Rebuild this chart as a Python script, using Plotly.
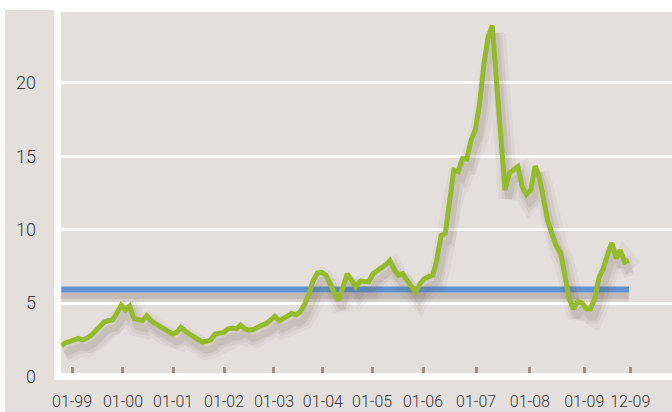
import plotly.graph_objects as go
import pandas as pd

# ---------------- data ----------------
start_month = "1998-11-01"
ratio = [
    2.1, 2.3,                                                            # 1998 Nov-Dec
    2.4, 2.5, 2.6, 2.5, 2.6, 2.8, 3.1, 3.4, 3.7, 3.8, 3.85, 4.3,         # 1999
    4.85, 4.55, 4.8, 3.95, 3.85, 3.8, 4.15, 3.8, 3.6, 3.45, 3.3, 3.1,    # 2000
    2.9, 3.0, 3.35, 3.1, 2.9, 2.7, 2.5, 2.35, 2.4, 2.5, 2.9, 2.95,       # 2001
    3.0, 3.25, 3.3, 3.25, 3.5, 3.25, 3.15, 3.2, 3.4, 3.5, 3.6, 3.9,      # 2002
    4.1, 3.8, 3.9, 4.1, 4.3, 4.2, 4.4, 4.9, 5.6, 6.5, 7.05, 7.1,         # 2003
    6.9, 6.2, 5.7, 5.2, 6.2, 7.0, 6.55, 6.1, 6.5, 6.5, 6.45, 7.0,        # 2004
    7.2, 7.45, 7.6, 7.9, 7.3, 6.9, 7.0, 6.55, 6.1, 5.75, 6.3, 6.65,      # 2005
    6.8, 6.9, 7.9, 9.6, 9.75, 11.8, 14.05, 13.95, 14.85, 14.8, 16.1, 16.8,  # 2006
    18.6, 21.3, 23.05, 23.9, 20.2, 16.6, 12.7, 13.85, 14.1, 14.3, 12.9, 12.4,  # 2007
    12.7, 14.35, 13.6, 12.0, 10.6, 9.7, 8.9, 8.4, 7.0, 5.3, 4.6, 5.1,    # 2008
    5.0, 4.6, 4.6, 5.3, 6.7, 7.35, 8.3, 9.1, 8.05, 8.6, 7.8, 7.9,        # 2009
]
benchmark_level = 5.93

tick_dates = ["1999-01-16", "2000-01-14", "2001-01-06", "2002-01-04", "2002-12-26",
              "2003-12-10", "2004-11-25", "2005-11-23", "2006-12-07", "2007-12-25",
              "2009-01-16", "2009-12-10"]
tick_labels = ["01-99", "01-00", "01-01", "01-02", "01-03", "01-04", "01-05",
               "01-06", "01-07", "01-08", "01-09", "12-09"]
y_ticks = [0, 5, 10, 15, 20]

# ---------------- styling ----------------
W, H = 672, 412
L, R, T, B = 61, 0, 12, 32
PW, PH = W - L - R, H - T - B
BG = "#e3dfdc"
GREEN = "#97ba2b"
BLUE = "#6292d0"
FONT = "Roboto, Liberation Sans, sans-serif"


def px_x(p):
    return (p - L) / PW


def px_y(p):
    return (H - B - p) / PH


dates = pd.date_range(start_month, periods=len(ratio), freq="MS")
shadow_dx = pd.Timedelta(days=25)
shadow_dy = 0.55

fig = go.Figure()

# benchmark shadow + line
bench_x = [dates[0], dates[-1]]
fig.add_trace(go.Scatter(x=bench_x, y=[benchmark_level - 0.5] * 2, mode="lines",
                         line=dict(color="rgba(130,115,105,0.14)", width=11),
                         hoverinfo="skip", showlegend=False))
fig.add_trace(go.Scatter(x=bench_x, y=[benchmark_level - 0.45] * 2, mode="lines",
                         line=dict(color="rgba(130,115,105,0.22)", width=6),
                         hoverinfo="skip", showlegend=False))
fig.add_trace(go.Scatter(x=bench_x, y=[benchmark_level] * 2, mode="lines",
                         line=dict(color=BLUE, width=6), showlegend=False))

# green line soft shadow
shadow_y = [v - shadow_dy for v in ratio]
for w, a in [(20, 0.05), (13, 0.075), (7, 0.1)]:
    fig.add_trace(go.Scatter(x=dates + shadow_dx, y=shadow_y, mode="lines",
                             line=dict(color=f"rgba(95,80,70,{a})", width=w),
                             hoverinfo="skip", showlegend=False))
fig.add_trace(go.Scatter(x=dates, y=ratio, mode="lines",
                         line=dict(color=GREEN, width=5), showlegend=False))

shapes = [
    # left label panel
    dict(type="rect", xref="paper", yref="paper", x0=px_x(5), x1=px_x(54),
         y0=px_y(412), y1=px_y(10), fillcolor=BG, line=dict(width=0), layer="below"),
    # bottom label panel
    dict(type="rect", xref="paper", yref="paper", x0=px_x(5), x1=1,
         y0=px_y(412), y1=px_y(380), fillcolor=BG, line=dict(width=0), layer="below"),
    # white separator bands
    dict(type="rect", xref="paper", yref="paper", x0=px_x(54), x1=1,
         y0=px_y(380), y1=px_y(373), fillcolor="white", line=dict(width=0), layer="above"),
    dict(type="rect", xref="paper", yref="paper", x0=px_x(54), x1=0,
         y0=px_y(380), y1=px_y(0), fillcolor="white", line=dict(width=0), layer="above"),
]

fig.update_layout(
    width=W, height=H, autosize=False,
    margin=dict(l=L, r=R, t=T, b=B, pad=0, autoexpand=False),
    paper_bgcolor="white", plot_bgcolor=BG,
    shapes=shapes,
    showlegend=False,
    xaxis=dict(
        type="date", range=["1998-10-29", "2010-10-04"],
        tickvals=tick_dates, ticktext=tick_labels, tickangle=0, automargin=False,
        ticks="inside", ticklen=13, tickwidth=3, tickcolor="#9d9087",
        showgrid=False, zeroline=False, showline=False,
        tickfont=dict(family=FONT, size=16, color="#3a3a3a", weight=300),
        ticklabelstandoff=10,
    ),
    yaxis=dict(
        range=[-0.238, 24.83], automargin=False,
        tickvals=y_ticks,
        ticks="", showgrid=True, gridcolor="white", gridwidth=3,
        zeroline=False, showline=False,
        tickfont=dict(family=FONT, size=18, color="#3a3a3a", weight=300),
        ticklabelstandoff=24,
    ),
)

fig.write_html("out.html")
